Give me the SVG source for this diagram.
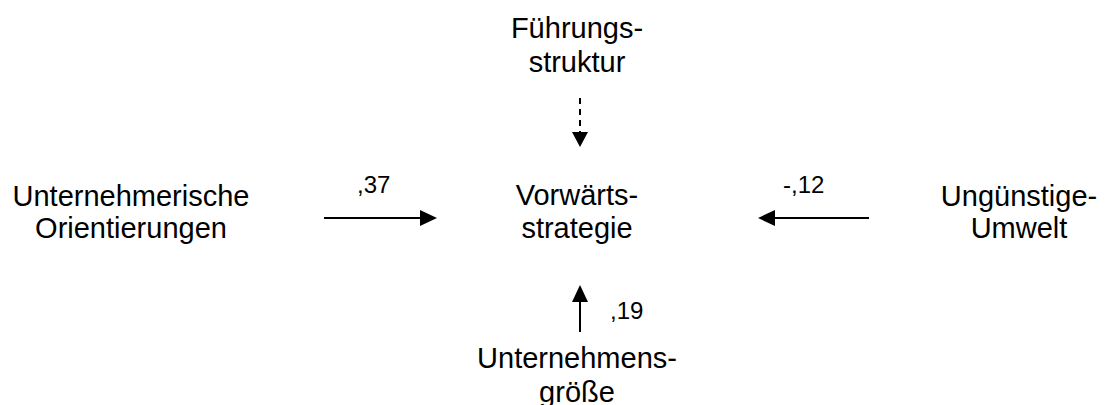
<svg xmlns="http://www.w3.org/2000/svg" width="1108" height="405" viewBox="0 0 1108 405">
<style>
.t{font-family:"Liberation Sans",Arial,sans-serif;font-size:29px;fill:#000;text-anchor:middle}
.l{font-family:"Liberation Sans",Arial,sans-serif;font-size:24px;fill:#000}
.c{stroke:#000;stroke-width:2;fill:none}
</style>
<rect width="1108" height="405" fill="#fff"/>
<g id="fuehrung"><text class="t" x="577" y="38">Führungs-</text><text class="t" x="577" y="72">struktur</text></g>
<g id="orient"><text class="t" x="131" y="206">Unternehmerische</text><text class="t" x="131" y="238">Orientierungen</text></g>
<g id="vorwaerts"><text class="t" x="577" y="205">Vorwärts-</text><text class="t" x="577" y="238">strategie</text></g>
<g id="umwelt"><text class="t" x="1019" y="206">Ungünstige-</text><text class="t" x="1019" y="238">Umwelt</text></g>
<g id="groesse"><text class="t" x="577" y="368">Unternehmens-</text><text class="t" x="577" y="402">größe</text></g>
<g id="connectors">
<path class="c" d="M580,98 L580,133" stroke-dasharray="6,5"/>
<path d="M572,132 L588,132 L580,147 Z" fill="#000"/>
<path class="c" d="M324,218 L421,218"/>
<path d="M420,210 L437,218 L420,226 Z" fill="#000"/>
<text class="l" x="357" y="193">,37</text>
<path class="c" d="M869,218 L774,218"/>
<path d="M775,210 L758,218 L775,226 Z" fill="#000"/>
<text class="l" x="783" y="193">-,12</text>
<path class="c" d="M580,332 L580,301"/>
<path d="M572,302 L588,302 L580,285 Z" fill="#000"/>
<text class="l" x="610" y="319">,19</text>
</g>
</svg>
